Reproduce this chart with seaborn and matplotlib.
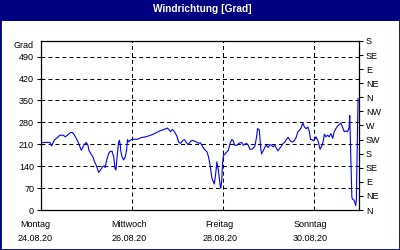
import matplotlib
matplotlib.use("Agg")
import matplotlib.pyplot as plt
from matplotlib.patches import Rectangle
from matplotlib.transforms import ScaledTranslation
import seaborn as sns
import pandas as pd

# ---- data (hours since Mon 24.08.20 00:00, wind direction in degrees) ----
hours = [0.3, 2.1, 4.7, 5.6, 7.0, 9.1, 9.9, 11.7, 12.9, 14.3, 15.7, 16.6, 17.4,
         18.7, 19.5, 20.6, 21.3, 22.2, 23.0, 23.9, 24.8, 25.3, 26.5, 27.4, 28.3,
         29.1, 30.0, 30.5, 31.4, 32.6, 33.5, 33.9, 34.7, 35.8, 36.5, 37.5, 38.4,
         39.1, 39.6, 40.2, 40.9, 41.4, 41.9, 42.2, 42.8, 43.6, 44.5, 45.2, 45.7,
         46.3, 47.1, 48.4, 51.0, 52.7, 55.4, 58.0, 60.6, 62.9, 65.3, 66.7, 67.6,
         68.5, 69.3, 70.2, 71.1, 71.9, 72.8, 73.7, 75.1, 75.8, 76.7, 77.7, 78.9,
         79.8, 80.7, 81.9, 83.3, 84.2, 85.4, 86.8, 87.7, 88.5, 89.4, 90.3, 91.5,
         92.0, 92.6, 92.9, 93.8, 94.7, 95.0, 95.5, 95.9, 96.4, 96.9, 97.8, 99.0,
         99.9, 100.8, 101.6, 102.2, 103.4, 104.6, 106.0, 106.9, 107.8, 108.6,
         109.5, 110.4, 111.3, 112.1, 113.0, 113.9, 114.4, 115.3, 115.6, 116.1,
         116.5, 117.4, 118.2, 119.1, 120.0, 120.9, 121.7, 122.6, 123.5, 124.4,
         125.2, 126.1, 127.0, 127.9, 128.7, 129.6, 130.5, 131.3, 132.2, 133.1,
         134.0, 134.8, 135.7, 136.6, 137.5, 138.3, 139.2, 140.1, 141.0, 141.8,
         142.4, 143.2, 143.9, 145.0, 145.3, 146.2, 146.7, 147.4, 147.9, 148.5,
         149.2, 149.7, 150.6, 151.4, 152.3, 153.2, 154.1, 154.9, 155.8, 156.7,
         157.6, 158.4, 159.3, 160.2, 161.0, 161.9, 162.8, 163.1, 163.7, 164.0,
         164.2, 164.5, 165.4, 165.9, 166.3, 166.6, 167.1, 167.5]
direction = [215, 216, 216, 205, 223, 234, 239, 239, 234, 241, 248, 247, 242,
             228, 218, 202, 191, 202, 210, 216, 207, 191, 178, 170, 154,
             144, 128, 120, 128, 139, 141, 136, 160, 181, 187, 188, 170,
             133, 128, 170, 213, 223, 207, 186, 170, 160, 170, 191, 225,
             218, 223, 226, 226, 231, 234, 239, 246, 253, 258, 262, 257,
             250, 257, 253, 244, 234, 216, 213, 223, 225, 216, 209, 218,
             223, 221, 218, 213, 215, 202, 191, 186, 170, 140, 102, 83,
             102, 133, 154, 123, 75, 70, 96, 149, 176, 176, 183, 191,
             213, 225, 221, 207, 207, 213, 216, 207, 210, 213,
             207, 194, 194, 197, 204, 234, 260, 257, 234, 197,
             179, 189, 200, 207, 200, 209, 207, 202, 207, 197,
             189, 197, 204, 213, 216, 225, 232, 225, 218, 218,
             223, 232, 250, 255, 263, 278, 265, 260, 265, 250,
             225, 225, 221, 229, 234, 223, 213, 194, 200, 207,
             223, 242, 234, 239, 234, 244, 229, 250, 260, 268,
             273, 278, 265, 250, 253, 250, 263, 302, 170, 96,
             43, 35, 31, 22, 14, 33, 212, 357]

y_ticks = [0, 70, 140, 210, 280, 350, 420, 490]
compass_ticks = [0, 45, 90, 135, 180, 225, 270, 315, 360, 405, 450, 495, 540]
compass_labels = ["N", "NE", "E", "SE", "S", "SW", "W", "NW",
                  "N", "NE", "E", "SE", "S"]
day_ticks = [0, 48, 96, 144]
day_names = ["Montag", "Mittwoch", "Freitag", "Sonntag"]
day_dates = ["24.08.20", "26.08.20", "28.08.20", "30.08.20"]
minor_day_ticks = [24, 72, 120, 168]

df = pd.DataFrame({"hours": hours, "direction": direction})

sns.set_style("white")
plt.rcParams["font.family"] = ["Liberation Sans", "DejaVu Sans"]

NAVY = "#000080"
fig = plt.figure(figsize=(4, 2.5), dpi=100)
fig.patch.set_facecolor("white")
ax = fig.add_axes([0.1025, 0.16, 0.795, 0.676])

sns.lineplot(data=df, x="hours", y="direction", ax=ax, color="#0000FF",
             linewidth=0.8)

ax.set_xlim(0, 168)
ax.set_ylim(0, 540)
ax.set_xlabel("")
ax.set_ylabel("")
ax.set_yticks(y_ticks)
ax.set_yticklabels([str(v) for v in y_ticks])
ax.set_xticks(day_ticks)
ax.set_xticklabels([f"{n}\n{d}" for n, d in zip(day_names, day_dates)],
                   linespacing=1.75)
ax.set_xticks(minor_day_ticks, minor=True)

for s in ax.spines.values():
    s.set_color("black")
    s.set_linewidth(0.9)

dash = (0, (3.8, 2.9))
for v in y_ticks[1:]:
    ax.axhline(v, color="black", lw=0.75, ls=dash, zorder=0)
for v in day_ticks[1:]:
    ax.axvline(v, color="black", lw=0.75, ls=dash, zorder=0)

ax.tick_params(axis="both", which="both", direction="out", length=3,
               width=0.75, labelsize=6.5, colors="black")
ax.tick_params(axis="y", pad=2)
ax.tick_params(axis="x", pad=4)

for i, lab in enumerate(ax.get_xticklabels()):
    dx = -6 if i == 0 else -3
    lab.set_transform(lab.get_transform() +
                      ScaledTranslation(dx / 100, 0, fig.dpi_scale_trans))

ax2 = ax.twinx()
ax2.set_ylim(0, 540)
ax2.set_yticks(compass_ticks)
ax2.set_yticklabels(compass_labels)
ax2.tick_params(axis="y", direction="out", length=3, width=0.75,
                labelsize=6.5, pad=2, colors="black")
for s in ax2.spines.values():
    s.set_visible(False)

fig.text(0.083, 0.82, "Grad", ha="right", va="center", fontsize=6.5,
         color="black")

fig.patches.append(Rectangle((0, 0.917), 1, 0.083, transform=fig.transFigure,
                             facecolor=NAVY, edgecolor="none", zorder=-1))
fig.text(0.505, 0.962, "Windrichtung [Grad]", ha="center", va="center",
         color="white", fontsize=7.3, fontweight="bold")
fig.patches.append(Rectangle((0, 0), 1, 1, transform=fig.transFigure,
                             fill=False, edgecolor=NAVY, linewidth=2,
                             zorder=10))

fig.savefig("out.png", dpi=100)
